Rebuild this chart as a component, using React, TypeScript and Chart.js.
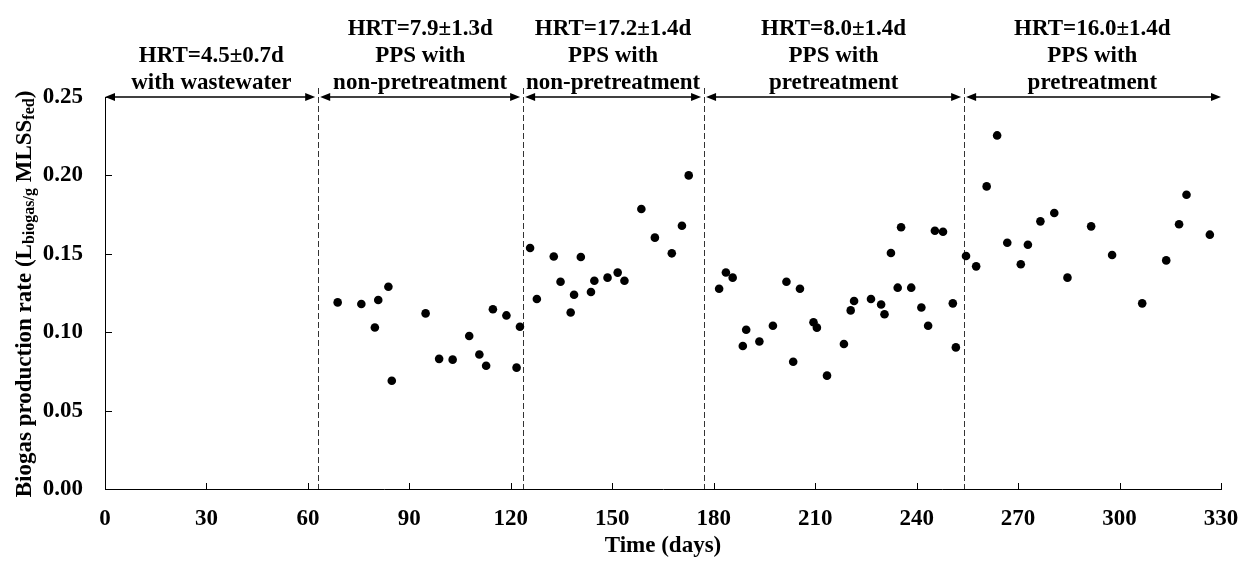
import React, { useEffect, useRef } from "react";
import { Chart, registerables } from "chart.js";

Chart.register(...registerables);

// ---- data ----
const days = [
  68.8, 75.8, 80.8, 79.8, 83.8, 84.8, 94.8, 98.8, 102.8, 107.7, 110.7, 112.7, 114.7, 118.7, 121.7, 122.7,
  125.7, 127.7, 132.7, 134.7, 137.7, 138.7, 140.7, 143.7, 144.7, 148.6, 151.6, 153.6, 158.6, 162.6, 167.6, 170.6, 172.6,
  181.6, 183.6, 185.6, 188.6, 189.6, 193.5, 197.5, 201.5, 203.5, 205.5, 209.5, 210.5, 213.5, 218.5, 220.5, 221.5, 226.5, 229.5, 230.5, 232.4, 234.4, 235.4, 238.4, 241.4, 243.4, 245.4, 247.8, 250.7, 251.6,
  254.6, 257.6, 260.7, 263.8, 266.8, 270.8, 272.9, 276.6, 280.7, 284.6, 291.6, 297.8, 306.7, 313.8, 317.6, 319.8, 326.7,
];
const rates = [
  0.119, 0.118, 0.1205, 0.103, 0.129, 0.069, 0.112, 0.083, 0.0825, 0.0976, 0.0858, 0.0786, 0.1146, 0.1107, 0.0774, 0.1035,
  0.1537, 0.1212, 0.1483, 0.1322, 0.1126, 0.1239, 0.148, 0.1256, 0.1328, 0.1348, 0.138, 0.1328, 0.1786, 0.1603, 0.1503, 0.1679, 0.2,
  0.1277, 0.1381, 0.1348, 0.0912, 0.1016, 0.0941, 0.1041, 0.1322, 0.0812, 0.1277, 0.1063, 0.1029, 0.0723, 0.0925, 0.1139, 0.1199, 0.1212, 0.1177, 0.1114, 0.1505, 0.1284, 0.1669, 0.1284, 0.1158, 0.1041, 0.1647, 0.1641, 0.1184, 0.0903,
  0.1486, 0.142, 0.193, 0.2255, 0.157, 0.1433, 0.1558, 0.1707, 0.176, 0.1348, 0.1675, 0.1492, 0.1184, 0.1458, 0.1688, 0.1877, 0.1622,
];
const phaseBounds = [0, 62.9, 123.5, 177, 253.9, 330];
const phaseLabels = [
  ["", "HRT=4.5±0.7d", "with wastewater"],
  ["HRT=7.9±1.3d", "PPS with", "non-pretreatment"],
  ["HRT=17.2±1.4d", "PPS with", "non-pretreatment"],
  ["HRT=8.0±1.4d", "PPS with", "pretreatment"],
  ["HRT=16.0±1.4d", "PPS with", "pretreatment"],
];
const xTickValues = [0, 30, 60, 90, 120, 150, 180, 210, 240, 270, 300, 330];
const yTickValues = [0, 0.05, 0.1, 0.15, 0.2, 0.25];
const xTitle = "Time (days)";
const yTitleParts = [
  { t: "Biogas production rate (L", sub: false },
  { t: "biogas/g", sub: true },
  { t: " MLSS", sub: false },
  { t: "fed", sub: true },
  { t: ")", sub: false },
];

const FONT = '"Liberation Serif", "Times New Roman", serif';

const overlay = {
  id: "overlay",
  beforeDatasetsDraw(chart: any) {
    const { ctx, chartArea, scales } = chart;
    const x = scales.x;
    const y = scales.y;
    const ay = y.getPixelForValue(yTickValues[yTickValues.length - 1]);
    ctx.save();
    ctx.strokeStyle = "#333";
    ctx.lineWidth = 1;
    ctx.setLineDash([6, 3]);
    for (let i = 1; i < phaseBounds.length - 1; i++) {
      const px = Math.round(x.getPixelForValue(phaseBounds[i])) + 0.5;
      ctx.beginPath();
      ctx.moveTo(px, ay - 9);
      ctx.lineTo(px, chartArea.bottom);
      ctx.stroke();
    }
    ctx.restore();
  },
  afterDraw(chart: any) {
    const { ctx, chartArea, scales } = chart;
    const x = scales.x;
    const y = scales.y;
    ctx.save();
    // inward tick marks
    ctx.strokeStyle = "#000";
    ctx.lineWidth = 1;
    ctx.setLineDash([]);
    ctx.beginPath();
    for (const v of yTickValues) {
      if (v === 0) continue;
      const py = Math.round(y.getPixelForValue(v)) + 0.5;
      ctx.moveTo(chartArea.left, py);
      ctx.lineTo(chartArea.left + 7, py);
    }
    for (const v of xTickValues) {
      if (v === 0) continue;
      const px = Math.round(x.getPixelForValue(v)) + 0.5;
      ctx.moveTo(px, chartArea.bottom);
      ctx.lineTo(px, chartArea.bottom - 6);
    }
    ctx.stroke();

    // arrows
    const ay = y.getPixelForValue(yTickValues[yTickValues.length - 1]);
    ctx.fillStyle = "#000";
    ctx.lineWidth = 1.5;
    const n = phaseBounds.length - 1;
    for (let i = 0; i < n; i++) {
      const l = x.getPixelForValue(phaseBounds[i]) + (i > 0 ? 2.5 : 0);
      const r = x.getPixelForValue(phaseBounds[i + 1]) - (i < n - 1 ? 2.5 : 0);
      ctx.beginPath();
      ctx.moveTo(l + 5, ay);
      ctx.lineTo(r - 5, ay);
      ctx.stroke();
      ctx.beginPath();
      ctx.moveTo(l, ay);
      ctx.lineTo(l + 10, ay - 4);
      ctx.lineTo(l + 10, ay + 4);
      ctx.closePath();
      ctx.fill();
      ctx.beginPath();
      ctx.moveTo(r, ay);
      ctx.lineTo(r - 10, ay - 4);
      ctx.lineTo(r - 10, ay + 4);
      ctx.closePath();
      ctx.fill();
      // header text
      const cx = (x.getPixelForValue(phaseBounds[i]) + x.getPixelForValue(phaseBounds[i + 1])) / 2;
      ctx.font = `bold 23px ${FONT}`;
      ctx.textAlign = "center";
      ctx.textBaseline = "alphabetic";
      const baselines = [35, 62, 89];
      phaseLabels[i].forEach((t, k) => {
        if (t) ctx.fillText(t, cx, baselines[k]);
      });
    }

    // y axis title with subscripts
    ctx.translate(30.5, (chartArea.top + chartArea.bottom) / 2 + 1);
    ctx.rotate(-Math.PI / 2);
    ctx.textAlign = "left";
    ctx.textBaseline = "alphabetic";
    const fontFor = (sub: boolean) => `bold ${sub ? 16 : 23}px ${FONT}`;
    let total = 0;
    for (const p of yTitleParts) {
      ctx.font = fontFor(p.sub);
      total += ctx.measureText(p.t).width;
    }
    let cxp = -total / 2;
    for (const p of yTitleParts) {
      ctx.font = fontFor(p.sub);
      ctx.fillText(p.t, cxp, p.sub ? 3 : 0);
      cxp += ctx.measureText(p.t).width;
    }
    ctx.restore();
  },
};

export default function App() {
  const ref = useRef<HTMLCanvasElement | null>(null);
  useEffect(() => {
    if (!ref.current) return;
    const tickFont = { family: FONT, size: 23, weight: "bold" as const };
    const chart = new Chart(ref.current, {
      type: "scatter",
      data: {
        datasets: [
          {
            data: days.map((d, i) => ({ x: d, y: rates[i] })),
            backgroundColor: "#000",
            borderColor: "#000",
            pointRadius: 4.3,
            pointHoverRadius: 4.3,
            borderWidth: 0,
          },
        ],
      },
      options: {
        responsive: false,
        animation: false,
        events: [],
        layout: { padding: { top: 97, right: 23, bottom: 0, left: 0 } },
        plugins: { legend: { display: false }, tooltip: { enabled: false } },
        scales: {
          x: {
            type: "linear",
            min: xTickValues[0],
            max: xTickValues[xTickValues.length - 1],
            afterFit: (s: any) => {
              s.height = 74;
              s.paddingLeft = 0;
              s.paddingRight = 0;
            },
            afterBuildTicks: (s: any) => {
              s.ticks = xTickValues.map((v) => ({ value: v }));
            },
            grid: { display: false, drawTicks: false },
            border: { display: true, color: "#000", width: 1 },
            ticks: { padding: 16, color: "#000", font: tickFont, maxRotation: 0, autoSkip: false },
            title: {
              display: true,
              text: xTitle,
              color: "#000",
              font: tickFont,
              padding: { top: 0, bottom: 3 },
            },
          },
          y: {
            type: "linear",
            min: yTickValues[0],
            max: yTickValues[yTickValues.length - 1],
            afterFit: (s: any) => {
              s.width = 105;
              s.paddingTop = 0;
              s.paddingBottom = 0;
            },
            afterBuildTicks: (s: any) => {
              s.ticks = yTickValues.map((v) => ({ value: v }));
            },
            grid: { display: false, drawTicks: false },
            border: { display: true, color: "#000", width: 1 },
            ticks: {
              padding: 22,
              color: "#000",
              font: tickFont,
              callback: (v: any) => Number(v).toFixed(2),
            },
          },
        },
      },
      plugins: [overlay],
    });
    return () => chart.destroy();
  }, []);
  return (
    <div style={{ position: "fixed", left: 0, top: 0, width: 1244, height: 563, background: "#fff" }}>
      <canvas ref={ref} width={1244} height={563} style={{ display: "block" }} />
    </div>
  );
}
